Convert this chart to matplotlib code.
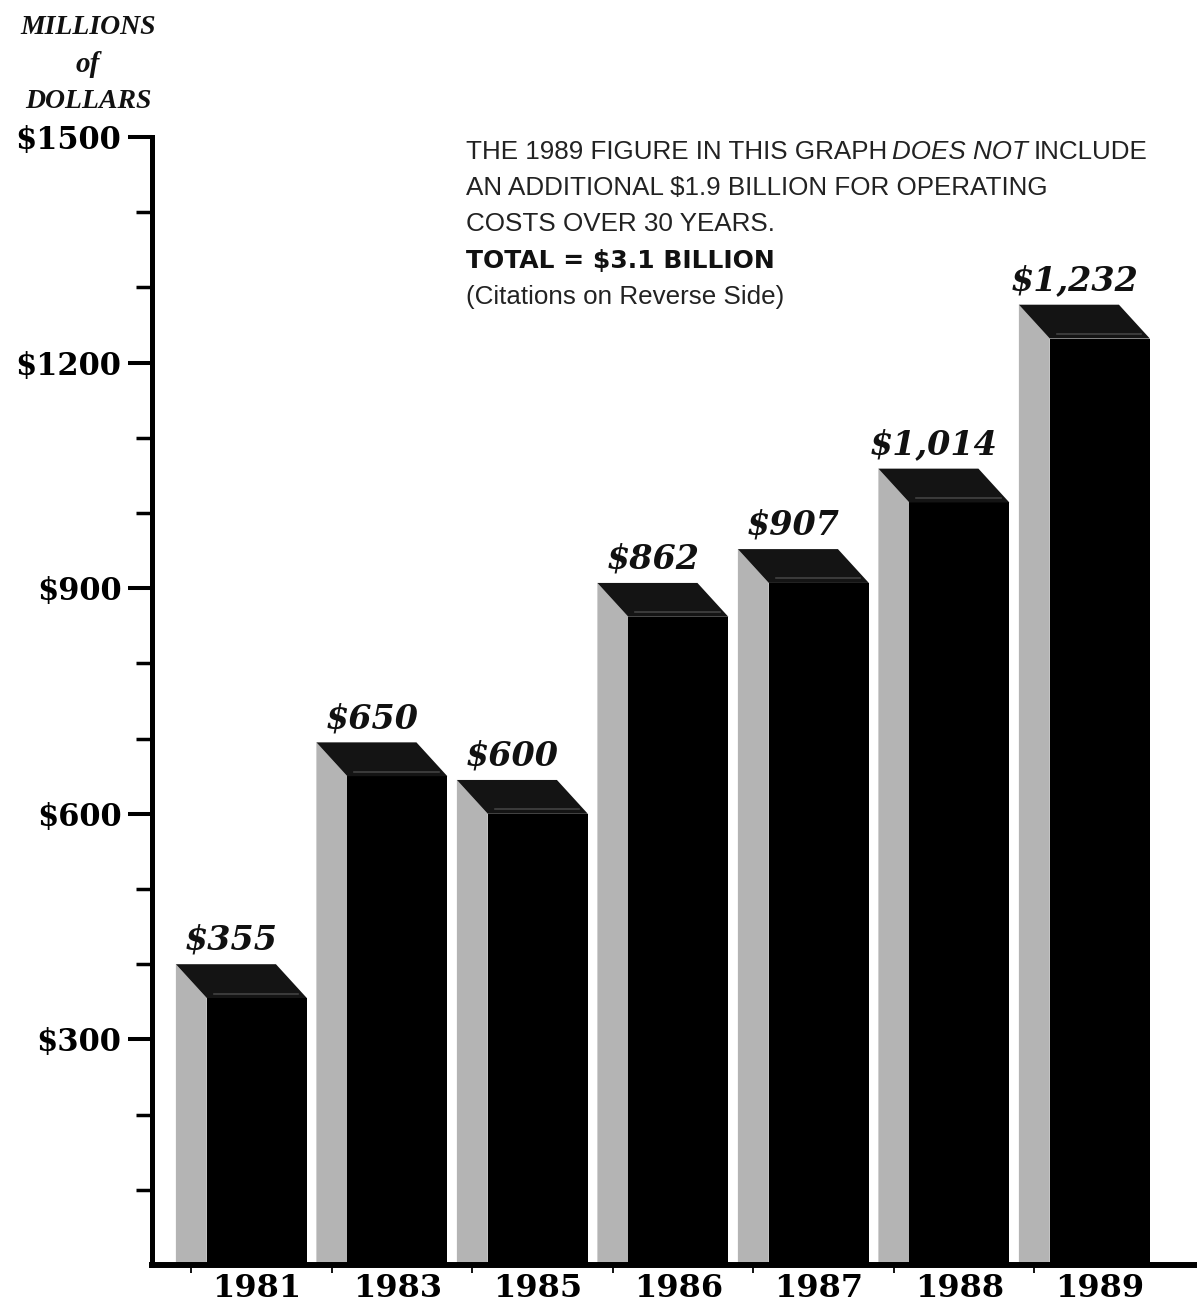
import matplotlib
matplotlib.use("Agg")
import matplotlib.pyplot as plt

# ---- data ----
years = ["1981", "1983", "1985", "1986", "1987", "1988", "1989"]
values = [355, 650, 600, 862, 907, 1014, 1232]
ytick_major = [300, 600, 900, 1200, 1500]
ytick_major_labels = ["$300", "$600", "$900", "$1200", "$1500"]
ytick_minor = [100, 200, 400, 500, 700, 800, 1000, 1100, 1300, 1400]
note_line1 = ["THE 1989 FIGURE IN THIS GRAPH", "DOES NOT", "INCLUDE"]
note_line2 = "AN ADDITIONAL $1.9 BILLION FOR OPERATING"
note_line3 = "COSTS OVER 30 YEARS."
note_total = "TOTAL = $3.1 BILLION"
note_cite = "(Citations on Reverse Side)"

W, H = 1197, 1302
fig = plt.figure(figsize=(W / 100, H / 100), dpi=100)
fig.patch.set_facecolor("white")

ax_left, ax_bottom = 152, 37
ax = fig.add_axes([ax_left / W, ax_bottom / H, (W - ax_left) / W, 1128 / H])
px_per_unit = 140.5
ax.set_xlim(0, (W - ax_left) / px_per_unit)
ax.set_ylim(0, 1500)

# bar geometry (in x-units of category spacing)
offset = 0.39
w = 0.712
d = 0.22
dy = 45

side_col = "#b4b4b4"
front_col = "#000000"
top_col = "#141414"

for i, v in enumerate(values):
    x0 = offset + i
    # side face
    ax.fill([x0 - d, x0 - d, x0, x0], [0, v + dy, v, 0], color=side_col, lw=0, zorder=2)
    # front face
    ax.fill([x0, x0, x0 + w, x0 + w], [0, v, v, 0], color=front_col, lw=0, zorder=3)
    # top face
    ax.fill([x0 - d, x0 + w - d, x0 + w, x0], [v + dy, v + dy, v, v], color=top_col, lw=0, zorder=3)
    ax.plot([x0 + 0.05, x0 + w - 0.06], [v + 6, v + 6], color="#555555", lw=1.2, alpha=0.7, zorder=4)
    # value label
    ax.text(x0 + (w - d) / 2 - 0.07, v + dy + 19, f"${v:,}", ha="center", va="baseline",
            fontfamily="DejaVu Serif", fontweight="bold", fontstyle="italic", fontsize=24,
            color="#111111", zorder=5)

# spines
for s in ["top", "right"]:
    ax.spines[s].set_visible(False)
ax.spines["left"].set_linewidth(3.6)
ax.spines["bottom"].set_linewidth(4.3)
ax.spines["left"].set_zorder(6)
ax.spines["bottom"].set_zorder(6)

# y ticks
ax.set_yticks(ytick_major)
ax.set_yticklabels(ytick_major_labels)
ax.set_yticks(ytick_minor, minor=True)
ax.tick_params(axis="y", which="major", length=17, width=2.9, pad=5, direction="out",
               labelsize=22, color="black")
ax.tick_params(axis="y", which="minor", length=11.5, width=2.5, direction="out", color="black")
for lab in ax.get_yticklabels():
    lab.set_fontfamily("DejaVu Serif")
    lab.set_fontweight("bold")

# x ticks: marks at side faces, labels at front faces
ax.set_xticks([offset + i + w / 2 for i in range(len(years))])
ax.set_xticklabels(years)
ax.set_xticks([offset + i - d / 2 for i in range(len(years))], minor=True)
ax.tick_params(axis="x", which="major", length=0, pad=6, labelsize=23)
ax.tick_params(axis="x", which="minor", length=6, width=1.3, direction="out")
for lab in ax.get_xticklabels():
    lab.set_fontfamily("DejaVu Serif")
    lab.set_fontweight("bold")

# y-axis title
for txt, yc, fs in [("MILLIONS", 28, 20), ("of", 64, 21), ("DOLLARS", 101, 20)]:
    fig.text(88 / W, 1 - yc / H, txt, ha="center", va="center",
             fontfamily="Liberation Serif", fontweight="bold", fontstyle="italic",
             fontsize=fs, color="#111111")

# annotation note
renderer = fig.canvas.get_renderer()
note_x = 466
fs_note = 18.7
x = note_x
styles = ["normal", "italic", "normal"]
for piece, st in zip(note_line1, styles):
    t = fig.text(x / W, 1 - 159 / H, piece, ha="left", va="baseline",
                 fontfamily="Liberation Sans", fontstyle=st, fontsize=fs_note, color="#222222")
    bb = t.get_window_extent(renderer)
    x = bb.x1 + 5
fig.text(note_x / W, 1 - 195 / H, note_line2, ha="left", va="baseline",
         fontfamily="Liberation Sans", fontsize=fs_note, color="#222222")
fig.text(note_x / W, 1 - 231 / H, note_line3, ha="left", va="baseline",
         fontfamily="Liberation Sans", fontsize=fs_note, color="#222222")
fig.text(note_x / W, 1 - 268 / H, note_total, ha="left", va="baseline",
         fontfamily="DejaVu Sans", fontweight="bold", fontsize=18, color="#111111")
fig.text(note_x / W, 1 - 304 / H, note_cite, ha="left", va="baseline",
         fontfamily="Liberation Sans", fontsize=fs_note, color="#222222")

fig.savefig("out.png", dpi=100, facecolor="white")
